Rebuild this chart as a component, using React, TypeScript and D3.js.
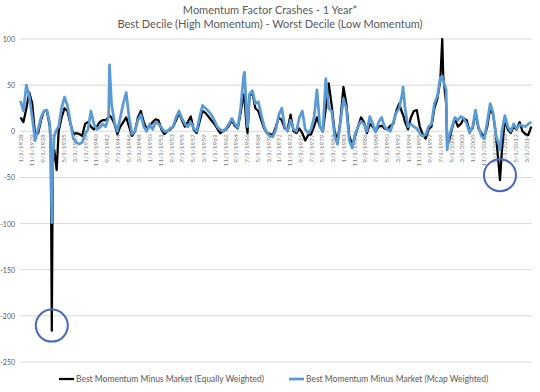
import React from 'react';
import * as d3 from 'd3';

// semi-annual readings (extra points around the spikes)
const dates = [
  '1928-01', '1928-07', '1929-01', '1929-07', '1930-01', '1930-07', '1931-01', '1931-07', '1932-01', '1932-07',
  '1933-01', '1933-03', '1933-05', '1933-07', '1933-10', '1934-03', '1934-07', '1935-01', '1935-07', '1936-01',
  '1936-07', '1937-01', '1937-07', '1938-01', '1938-07', '1939-01', '1939-07', '1940-01', '1940-07', '1941-01',
  '1941-07', '1942-01', '1942-07', '1943-01', '1943-03', '1943-07', '1944-01', '1944-07', '1945-01', '1945-07',
  '1946-01', '1946-07', '1947-01', '1947-07', '1948-01', '1948-07', '1949-01', '1949-07', '1950-01', '1950-07',
  '1951-01', '1951-07', '1952-01', '1952-07', '1953-01', '1953-07', '1954-01', '1954-07', '1955-01', '1955-07',
  '1956-01', '1956-07', '1957-01', '1957-07', '1958-01', '1958-07', '1959-01', '1959-07', '1960-01', '1960-07',
  '1961-01', '1961-07', '1962-01', '1962-07', '1963-01', '1963-07', '1964-01', '1964-07', '1965-01', '1965-07',
  '1966-01', '1966-03', '1966-07', '1966-09', '1967-01', '1967-07', '1968-01', '1968-07', '1969-01', '1969-07',
  '1970-01', '1970-07', '1971-01', '1971-07', '1972-01', '1972-07', '1973-01', '1973-07', '1974-01', '1974-07',
  '1975-01', '1975-07', '1976-01', '1976-07', '1977-01', '1977-07', '1978-01', '1978-07', '1979-01', '1979-07',
  '1980-01', '1980-07', '1981-01', '1981-07', '1982-01', '1982-07', '1983-01', '1983-07', '1984-01', '1984-07',
  '1985-01', '1985-07', '1986-01', '1986-07', '1987-01', '1987-07', '1988-01', '1988-07', '1989-01', '1989-07',
  '1990-01', '1990-07', '1991-01', '1991-07', '1992-01', '1992-07', '1993-01', '1993-03', '1993-07', '1994-01',
  '1994-07', '1995-01', '1995-07', '1996-01', '1996-07', '1997-01', '1997-07', '1998-01', '1998-07', '1999-01',
  '1999-07', '1999-11', '2000-01', '2000-07', '2000-09', '2001-01', '2001-07', '2002-01', '2002-07', '2003-01',
  '2003-07', '2004-01', '2004-07', '2005-01', '2005-07', '2006-01', '2006-07', '2007-01', '2007-07', '2008-01',
  '2008-07', '2009-01', '2009-07', '2009-09', '2010-01', '2010-07', '2011-01', '2011-07', '2012-01', '2012-07',
  '2013-01', '2013-07', '2014-01', '2014-07', '2015-01',
];

const equalWeighted = [
  15, 10, 25, 42, 30, -5, -2, 12, 22, 22,
  5, -25, -216, -35, -20, -42, 0, 15, 25, 22,
  8, -3, -2, -3, -5, 8, 10, 5, 2, 5,
  10, 12, 12, 15, 17, 15, 8, -3, 5, 10,
  15, 5, -5, 0, 15, 22, 10, 2, 5, 10,
  13, 12, 2, -3, 0, 2, 5, 12, 20, 12,
  5, 10, 16, 2, -2, 10, 22, 20, 16, 12,
  8, 3, -2, 0, 2, 6, 12, 6, 3, 20,
  40, 35, 5, -2, 38, 42, 25, 22, 12, 3,
  -2, -3, -4, 5, 15, 12, 3, 2, 18, 0,
  -2, 3, -2, -10, -4, -3, 5, 15, 5, 0,
  25, 52, 28, 0, -10, 12, 48, 30, -5, -15,
  -5, 5, 15, 10, -2, 8, 5, 0, 5, 6,
  3, 2, 6, 8, 22, 30, 20, 18, 10, 2,
  15, 22, 23, 5, -3, -8, 2, 5, 25, 35,
  55, 100, 60, 30, -15, -10, 3, 14, 5, 8,
  14, 12, 0, 3, 20, 3, -2, -6, 5, 25,
  18, -5, -40, -53, -20, 12, 2, -2, 5, 2,
  10, 0, -3, -4, 5,
];

const mcapWeighted = [
  33, 22, 50, 38, 15, -10, 2, 15, 22, 23,
  8, -25, -99, -30, -5, 2, 5, 25, 37, 28,
  10, -8, -12, -14, -12, -3, 2, 22, 8, 2,
  4, 8, 5, 15, 72, 30, 10, 0, 15, 30,
  42, 15, -3, 0, 12, 18, 5, 0, 8, 2,
  10, 8, 4, 0, 0, 3, 5, 15, 22, 14,
  8, 5, 10, 3, 0, 15, 28, 25, 22, 18,
  12, 5, 2, 0, 3, 8, 14, 8, 4, 25,
  60, 64, 20, 5, 40, 44, 30, 32, 18, 5,
  -2, -5, -6, 2, 18, 25, 5, 0, 12, 2,
  0, 15, 22, 2, -2, 2, 15, 45, 5, 0,
  57, 25, 22, -5, -14, 10, 35, 25, -10, -18,
  -3, 5, 11, 8, 0, 16, 8, -1, 10, 15,
  5, 2, 0, 10, 20, 25, 40, 48, 25, 5,
  8, 5, 3, -2, -5, -4, 5, 8, 30, 38,
  58, 60, 55, 45, -20, -5, 5, 15, 12, 16,
  14, 8, -2, 5, 23, 5, -5, -8, 10, 30,
  20, -5, -15, -20, 0, 17, 5, 0, 8, 3,
  7, 6, 5, 8, 10,
];

const seriesNames = [
  'Best Momentum Minus Market (Equally Weighted)',
  'Best Momentum Minus Market (Mcap Weighted)',
];

const yTicks = [100, 50, 0, -50, -100, -150, -200, -250];

const xTickLabels = [
  '1/1/1928', '11/1/1929', '9/1/1931', '7/1/1933', '5/1/1935', '3/1/1937', '1/1/1939', '11/1/1940',
  '9/1/1942', '7/1/1944', '5/1/1946', '3/1/1948', '1/1/1950', '11/1/1951', '9/1/1953', '7/1/1955',
  '5/1/1957', '3/1/1959', '1/1/1961', '11/1/1962', '9/1/1964', '7/1/1966', '5/1/1968', '3/1/1970',
  '1/1/1972', '11/1/1973', '9/1/1975', '7/1/1977', '5/1/1979', '3/1/1981', '1/1/1983', '11/1/1984',
  '9/1/1986', '7/1/1988', '5/1/1990', '3/1/1992', '1/1/1994', '11/1/1995', '9/1/1997', '7/1/1999',
  '5/1/2001', '3/1/2003', '1/1/2005', '11/1/2006', '9/1/2008', '7/1/2010', '5/1/2012', '3/1/2014',
];

// the two circled crashes
const crashDates = ['1933-05', '2009-09'];

const W = 540;
const H = 392;
const grey = '#595959';
const font = 'Lato, "Open Sans", sans-serif';

const parseMonth = d3.timeParse('%Y-%m');
const parseLabel = d3.timeParse('%m/%d/%Y');

export default function App() {
  const x = d3.scaleTime()
    .domain([parseMonth('1928-01'), parseMonth('2015-01')])
    .range([20.5, 531.3]);
  const y = d3.scaleLinear().domain([-250, 100]).range([362, 39]);

  const pts = dates.map((d, i) => ({ date: parseMonth(d), eq: equalWeighted[i], mc: mcapWeighted[i] }));
  const lineEq = d3.line<any>().x(d => x(d.date)).y(d => y(d.eq));
  const lineMc = d3.line<any>().x(d => x(d.date)).y(d => y(d.mc));

  const circles = crashDates.map(c => {
    const i = dates.indexOf(c);
    return { cx: x(parseMonth(c)), cy: y(equalWeighted[i]) - 5 };
  });

  return (
    <svg width={W} height={H} style={{ position: 'absolute', left: 0, top: 0, background: '#fff' }} fontFamily={font}>
      <text x={270} y={14} textAnchor="middle" fontSize={11} fill={grey}>Momentum Factor Crashes - 1 Year*</text>
      <text x={270} y={28} textAnchor="middle" fontSize={11} fill={grey}>Best Decile (High Momentum) - Worst Decile (Low Momentum)</text>

      {yTicks.map(t => (
        <g key={t}>
          <line x1={20} x2={532} y1={y(t)} y2={y(t)} stroke="#d9d9d9" strokeWidth={1} />
          <text x={15} y={y(t)} textAnchor="end" dominantBaseline="central" fontSize={7} fill={grey}>{t}</text>
        </g>
      ))}

      {xTickLabels.map(l => (
        <text key={l} transform={`translate(${x(parseLabel(l))},${y(0) + 3}) rotate(-90)`}
          textAnchor="end" dominantBaseline="central" fontSize={6.5} fill="#7f7f7f">{l}</text>
      ))}

      <path d={lineEq(pts) || ''} fill="none" stroke="#000" strokeWidth={2.25} strokeLinejoin="round" />
      <path d={lineMc(pts) || ''} fill="none" stroke="#5b9bd5" strokeWidth={2.75} strokeLinejoin="round" />

      {circles.map((c, i) => (
        <circle key={i} cx={c.cx} cy={c.cy} r={16} fill="none" stroke="#4468c4" strokeWidth={2} />
      ))}

      <g>
        <line x1={59} x2={74} y1={379} y2={379} stroke="#000" strokeWidth={2.25} />
        <text x={76} y={379} dominantBaseline="central" fontSize={8.5} fill={grey}>{seriesNames[0]}</text>
        <line x1={289} x2={304} y1={379} y2={379} stroke="#5b9bd5" strokeWidth={2.75} />
        <text x={306} y={379} dominantBaseline="central" fontSize={8.5} fill={grey}>{seriesNames[1]}</text>
      </g>
    </svg>
  );
}
